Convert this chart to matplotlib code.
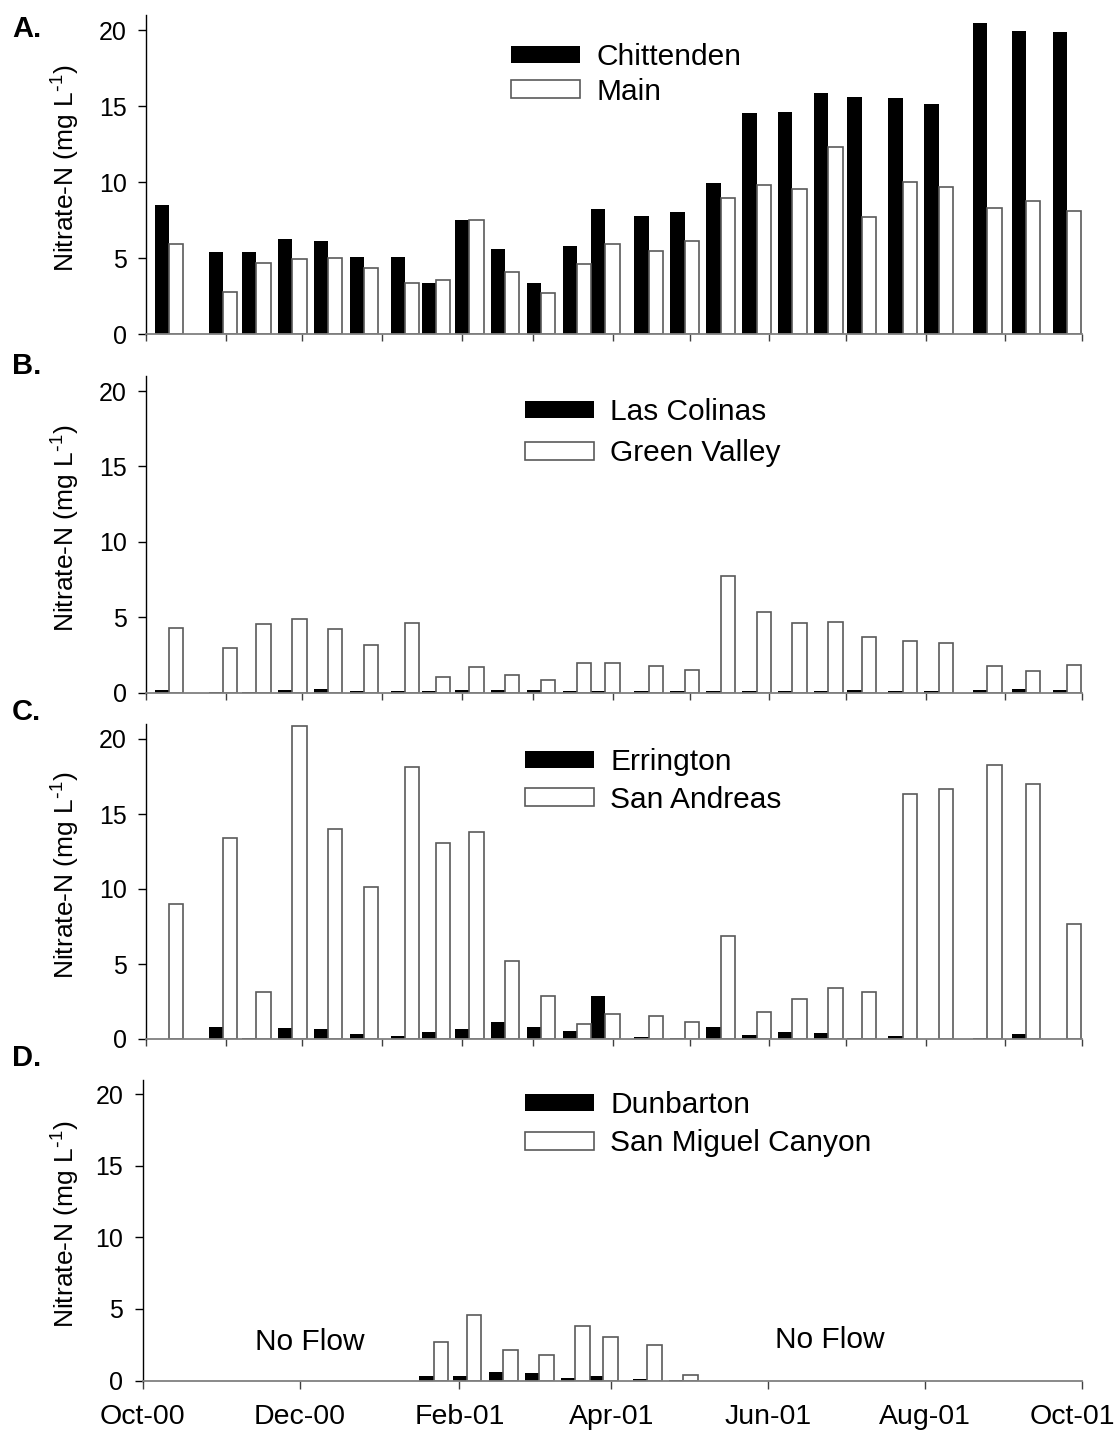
import numpy as np
import matplotlib
matplotlib.use('Agg')
import matplotlib.pyplot as plt
import matplotlib.dates as mdates
import matplotlib.transforms as mtransforms
from datetime import datetime

plt.rcParams['font.family'] = ['Liberation Sans', 'DejaVu Sans']
plt.rcParams['mathtext.default'] = 'regular'

nan = np.nan

## sampling dates (about every two weeks)
dates = ['2000-10-10', '2000-10-31', '2000-11-13', '2000-11-27', '2000-12-11',
         '2000-12-25', '2001-01-10', '2001-01-22', '2001-02-04', '2001-02-18',
         '2001-03-04', '2001-03-18', '2001-03-29', '2001-04-15', '2001-04-29',
         '2001-05-13', '2001-05-27', '2001-06-10', '2001-06-24', '2001-07-07',
         '2001-07-23', '2001-08-06', '2001-08-25', '2001-09-09', '2001-09-25']

## A.
chittenden = [8.5, 5.4, 5.4, 6.3, 6.15, 5.1, 5.1, 3.35, 7.5, 5.6, 3.35, 5.8, 8.25,
              7.8, 8.05, 9.95, 14.55, 14.6, 15.9, 15.6, 15.55, 15.15, 20.45, 19.95, 19.9]
main = [5.95, 2.8, 4.7, 4.95, 5.05, 4.35, 3.4, 3.6, 7.5, 4.1, 2.7, 4.6, 5.95,
        5.5, 6.15, 8.95, 9.85, 9.55, 12.35, 7.7, 10.0, 9.7, 8.3, 8.8, 8.1]

## B.
las_colinas = [0.15, 0.07, 0.02, 0.18, 0.22, 0.13, 0.13, 0.13, 0.18, 0.18, 0.18, 0.13, 0.1,
               0.11, 0.11, 0.13, 0.13, 0.13, 0.13, 0.18, 0.13, 0.13, 0.18, 0.22, 0.18]
green_valley = [4.3, 2.95, 4.55, 4.9, 4.2, 3.15, 4.6, 1.05, 1.7, 1.15, 0.85, 1.95, 1.95,
                1.75, 1.5, 7.75, 5.35, 4.6, 4.7, 3.7, 3.4, 3.3, 1.8, 1.45, 1.85]

## C.
errington = [0.0, 0.78, 0.07, 0.71, 0.64, 0.33, 0.18, 0.44, 0.69, 1.13, 0.82, 0.53, 2.87,
             0.11, 0.04, 0.8, 0.27, 0.47, 0.4, 0.07, 0.18, 0.0, 0.04, 0.31, 0.0]
san_andreas = [9.0, 13.4, 3.15, 20.9, 14.0, 10.15, 18.15, 13.1, 13.8, 5.2, 2.9, 1.0, 1.7,
               1.55, 1.15, 6.9, 1.8, 2.65, 3.4, 3.15, 16.35, 16.7, 18.25, 17.0, 7.65]

## D.
dunbarton = [nan, nan, nan, nan, nan, nan, nan, 0.3, 0.28, 0.56, 0.51, 0.16, 0.3,
             0.07, 0.05, nan, nan, nan, nan, nan, nan, nan, nan, nan, nan]
san_miguel = [nan, nan, nan, nan, nan, nan, nan, 2.7, 4.6, 2.15, 1.8, 3.8, 3.05,
              2.5, 0.35, nan, nan, nan, nan, nan, nan, nan, nan, nan, nan]

panels = [
    ('A.', chittenden, main, 'Chittenden', 'Main'),
    ('B.', las_colinas, green_valley, 'Las Colinas', 'Green Valley'),
    ('C.', errington, san_andreas, 'Errington', 'San Andreas'),
    ('D.', dunbarton, san_miguel, 'Dunbarton', 'San Miguel Canyon'),
]

W, H = 1118, 1434
fig = plt.figure(figsize=(W / 100, H / 100), dpi=100)

# axes boxes in pixels: left, zero line, top of axis
boxes = [(146, 334.4, 15), (146, 692.7, 376), (146, 1039, 724), (142.7, 1380.5, 1080)]
label_y = [29, 366, 712, 1058]
legend_top = [43, 398, 748, 1091]
legend_gap = [0.22, 0.45, 0.32, 0.35]

x = mdates.date2num([datetime.strptime(d, '%Y-%m-%d') for d in dates])
w = 5.6  # bar width in days

for i, (tag, black, white, name1, name2) in enumerate(panels):
    left, bottom, top = boxes[i]
    ax = fig.add_axes([left / W, 1 - bottom / H, (1082.3 - left) / W, (bottom - top) / H])

    b1 = ax.bar(x - w / 2, black, width=w, color='black', edgecolor='none')
    b2 = ax.bar(x + w / 2, white, width=w, facecolor='white', edgecolor='#5a5a5a', linewidth=1.2)

    ax.set_xlim(mdates.date2num(datetime(2000, 10, 1)), mdates.date2num(datetime(2001, 10, 1)))
    ax.set_ylim(0, 21)
    ax.set_yticks([0, 5, 10, 15, 20])

    for s in ['top', 'right']:
        ax.spines[s].set_visible(False)
    ax.spines['left'].set_color('black')
    ax.spines['left'].set_linewidth(1.0)
    ax.spines['bottom'].set_color('#808080')
    ax.spines['bottom'].set_linewidth(1.3)

    ax.tick_params(axis='y', direction='out', length=6, width=1, labelsize=18, pad=8)
    if tag == 'D.':
        ax.xaxis.set_major_locator(mdates.MonthLocator(bymonth=[10, 12, 2, 4, 6, 8]))
        ax.xaxis.set_major_formatter(mdates.DateFormatter('%b-%y'))
        ax.tick_params(axis='x', direction='out', length=6, width=1, color='#404040',
                       labelsize=20.5, pad=11)
        fig.canvas.draw()
        last = ax.get_xticklabels()[-1]
        last.set_transform(last.get_transform() +
                           mtransforms.ScaledTranslation(-0.1, 0, fig.dpi_scale_trans))
        ax.text(mdates.date2num(datetime(2000, 12, 5)), 2.7, 'No Flow', fontsize=21.5,
                ha='center', va='center')
        ax.text(mdates.date2num(datetime(2001, 6, 25)), 2.8, 'No Flow', fontsize=21.5,
                ha='center', va='center')
    else:
        ax.xaxis.set_major_locator(mdates.MonthLocator())
        ax.tick_params(axis='x', direction='out', length=5, width=1, color='#404040',
                       labelbottom=False)

    ax.set_ylabel(r'Nitrate-N (mg L$^{\text{-}1}$)', fontsize=19)
    ax.yaxis.set_label_coords((82 - left) / (1082.3 - left), 0.52)

    ax.legend([b1, b2], [name1, name2], loc='upper left',
              bbox_to_anchor=(525 / W if i else 511 / W, 1 - legend_top[i] / H),
              bbox_transform=fig.transFigure, frameon=False, fontsize=21.5,
              handlelength=2.3, handleheight=0.54, handletextpad=0.55,
              labelspacing=legend_gap[i], borderpad=0, borderaxespad=0)

    fig.text(12 / W, 1 - label_y[i] / H, tag, fontsize=21, fontweight='bold',
             ha='left', va='center')

fig.savefig('out.png', dpi=100)
